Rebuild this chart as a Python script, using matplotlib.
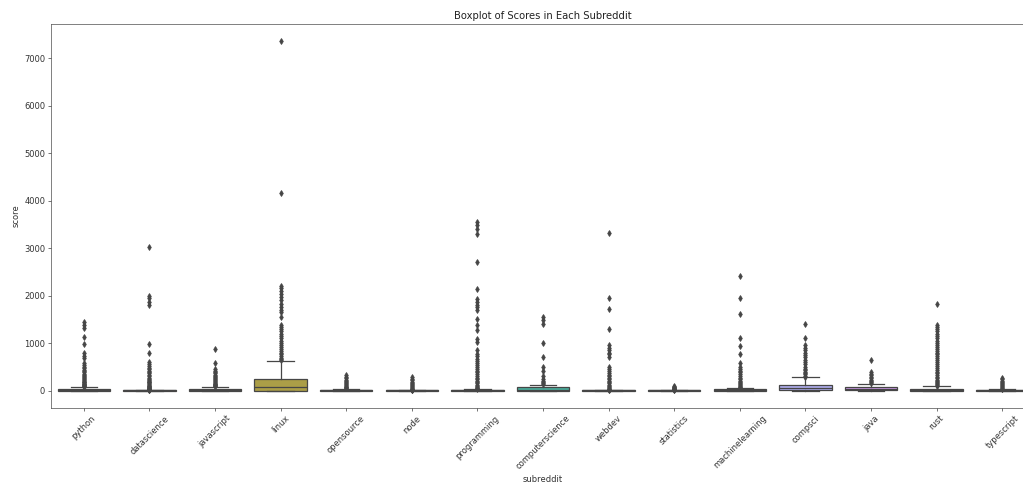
import colorsys
import matplotlib
matplotlib.use("Agg")
import matplotlib.pyplot as plt
import seaborn as sns

categories = ["python", "datascience", "javascript", "linux", "opensource", "node",
              "programming", "computerscience", "webdev", "statistics",
              "machinelearning", "compsci", "java", "rust", "typescript"]

q1 = [0, 0, 0, 0, 0, 0, 0, 0, 0, 0, 0, 5, 5, 0, 0]
median = [5, 1, 6, 70, 3, 1, 3, 15, 1, 1, 5, 50, 30, 10, 2]
q3 = [30, 3, 30, 246, 18, 3, 12, 70, 3, 4, 25, 110, 70, 40, 10]
whisker_lo = [0, 0, 0, 0, 0, 0, 0, 0, 0, 0, 0, 0, 0, 0, 0]
whisker_hi = [70, 6, 85, 612, 40, 7, 28, 120, 7, 9, 60, 275, 140, 95, 25]

fliers = [
    [1450, 1380, 1310, 1120, 990, 800, 730, 690, 570, 530, 500, 470, 440, 410, 380, 350,
     320, 300, 280, 260, 240, 220, 200, 185, 170, 155, 140, 130, 120, 110, 100, 90, 80],
    [3030, 1990, 1940, 1870, 1800, 970, 780, 600, 560, 520, 480, 450, 420, 390, 360, 330,
     300, 270, 250, 230, 210, 190, 170, 150, 130, 115, 100, 90, 80, 70, 60, 50, 40, 30,
     25, 20, 15, 10],
    [865, 570, 460, 420, 390, 360, 330, 300, 280, 260, 240, 220, 200, 180, 160, 145, 130,
     120, 110, 100, 92],
    [7350, 4165, 2210, 2150, 2100, 2040, 1970, 1900, 1830, 1760, 1700, 1650, 1550, 1370,
     1330, 1290, 1250, 1200, 1150, 1100, 1050, 1000, 960, 920, 880, 840, 800, 760, 720,
     690, 660, 640],
    [320, 290, 260, 230, 200, 180, 160, 140, 120, 100, 85, 70, 55, 45],
    [280, 250, 220, 190, 160, 130, 110, 90, 70, 55, 40, 30, 20, 12, 9],
    [3550, 3480, 3410, 3300, 2710, 2130, 1930, 1870, 1810, 1760, 1690, 1510, 1370, 1265,
     1090, 1020, 845, 770, 720, 670, 620, 580, 540, 500, 460, 420, 380, 340, 300, 270,
     240, 210, 180, 150, 120, 100, 80, 60, 45, 35],
    [1546, 1480, 1406, 1005, 703, 492, 422, 316, 246, 200, 176, 150, 130],
    [3310, 1940, 1710, 1300, 950, 900, 850, 800, 770, 700, 490, 450, 410, 370, 330, 300,
     270, 240, 210, 180, 150, 120, 100, 80, 60, 40, 25, 15, 10],
    [100, 85, 70, 60, 50, 40, 32, 25, 18, 12],
    [2420, 1950, 1620, 1100, 940, 760, 570, 500, 460, 420, 380, 340, 300, 270, 240, 210,
     180, 150, 130, 110, 95, 80, 70],
    [1410, 1100, 960, 900, 850, 800, 750, 700, 650, 600, 550, 500, 450, 430, 400, 370,
     340, 310, 290],
    [640, 380, 350, 320, 290, 260, 230, 200, 180, 160],
    [1830, 1370, 1330, 1290, 1250, 1200, 1150, 1100, 1050, 1000, 960, 920, 880, 840, 800,
     760, 720, 680, 640, 600, 560, 520, 480, 440, 400, 360, 320, 290, 260, 230, 200, 180,
     160, 140, 120, 105],
    [265, 240, 210, 180, 150, 130, 110, 90, 70, 55, 40, 30],
]

title = "Boxplot of Scores in Each Subreddit"
xlabel = "subreddit"
ylabel = "score"

# seaborn-style colours
palette = [sns.desaturate(c, 0.75) for c in sns.husl_palette(len(categories), l=0.7)]
lum = min(colorsys.rgb_to_hls(*c)[1] for c in palette) * 0.6
gray = (lum, lum, lum)

stats = []
for i, name in enumerate(categories):
    stats.append(dict(label=name, q1=q1[i], med=median[i], q3=q3[i],
                      whislo=whisker_lo[i], whishi=whisker_hi[i], fliers=fliers[i]))

DPI = 60
fig = plt.figure(figsize=(1023 / DPI, 486 / DPI), dpi=DPI)
ax = fig.add_axes([51 / 1023, 78 / 486, 984 / 1023, 384 / 486])
for s in ax.spines.values():
    s.set_color("#444444")

positions = list(range(len(categories)))
bp = ax.bxp(stats, positions=positions, widths=0.8, patch_artist=True,
            boxprops=dict(edgecolor=gray, linewidth=1.5),
            medianprops=dict(color=gray, linewidth=1.5),
            whiskerprops=dict(color=gray, linewidth=1.5),
            capprops=dict(color=gray, linewidth=1.5),
            flierprops=dict(marker="d", markerfacecolor=gray, markeredgecolor=gray,
                            markersize=5, linestyle="none"))
for patch, col in zip(bp["boxes"], palette):
    patch.set_facecolor(col)

ax.set_xlim(-0.5, len(categories) - 0.5)
ax.set_xticks(positions)
ax.set_xticklabels(categories, rotation=45)
ax.tick_params(colors="#333333")
ax.set_title(title, color="#222222")
ax.set_xlabel(xlabel, color="#333333")
ax.set_ylabel(ylabel, color="#333333")

fig.savefig("out.png", dpi=DPI)
